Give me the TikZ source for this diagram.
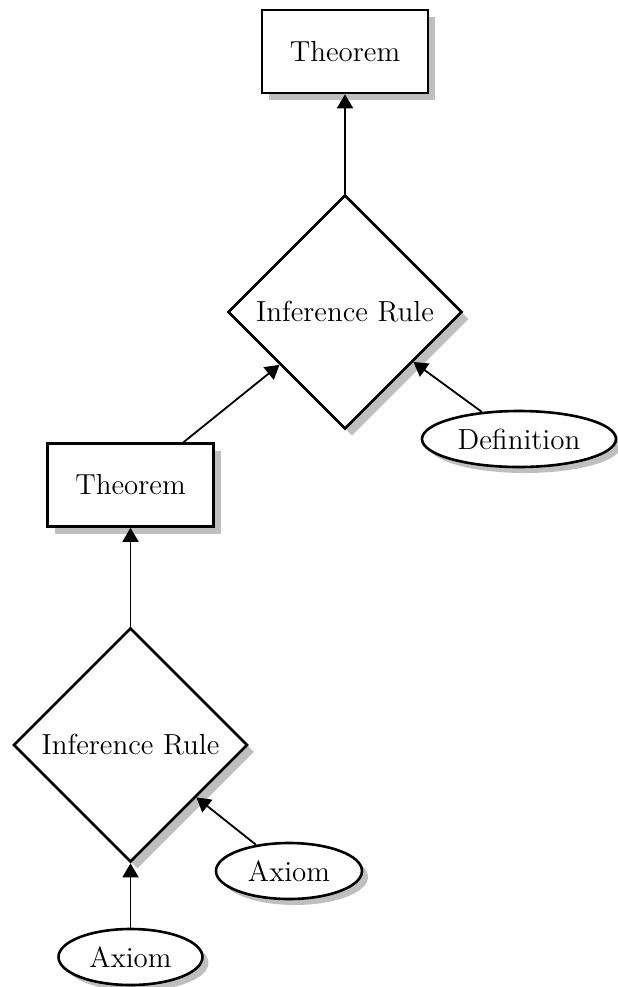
\documentclass[tikz,border=0pt]{standalone}
\usepackage{tikz}
\usetikzlibrary{shapes.geometric,shadows,arrows.meta}
\tikzstyle{thm} = [rectangle, draw, line width=1.3pt, fill=white, minimum width=83pt, minimum height=41.5pt, inner sep=0pt, drop shadow={shadow xshift=3.5pt, shadow yshift=-3.5pt, fill=black!25, opacity=1}]
\tikzstyle{infrule} = [diamond, draw, line width=1.3pt, fill=white, minimum width=117pt, minimum height=117pt, inner sep=0pt, drop shadow={shadow xshift=3.5pt, shadow yshift=-3.5pt, fill=black!25, opacity=1}]
\tikzstyle{premise} = [ellipse, draw, line width=1.3pt, fill=white, minimum height=28pt, inner sep=0pt, drop shadow={shadow xshift=3pt, shadow yshift=-3pt, fill=black!25, opacity=1}]

\begin{document}
\begin{tikzpicture}[->,>={Triangle[length=7pt,width=8pt]},line width=0.9pt,
    every node/.style={font=\fontsize{14.5}{17}\selectfont}]
  \useasboundingbox (0,0) rectangle (308.5pt,-493.5pt);
  \node[thm] (thmA) at (172.5pt,-25.75pt) {Theorem};
  \node[infrule] (infA) [below of=thmA, node distance=130.25pt] {Inference Rule};
  \node[premise, minimum width=97pt] (defn) at (259.5pt,-219.5pt) {Definition};
  \node[thm] (thmB) at (65.25pt,-242.5pt) {Theorem};
  \node[infrule] (infB) [below of=thmB, node distance=130pt] {Inference Rule};
  \node[premise, minimum width=73pt] (axA) at (144.5pt,-435.5pt) {Axiom};
  \node[premise, minimum width=72pt] (axB) [below of=infB, node distance=106pt] {Axiom};

  \path (infA) edge (thmA);
  \path (thmB) edge (infA);
  \path (defn) edge (infA);
  \path (infB) edge (thmB);
  \path (axA) edge (infB);
  \path (axB) edge (infB);
\end{tikzpicture}
\end{document}
